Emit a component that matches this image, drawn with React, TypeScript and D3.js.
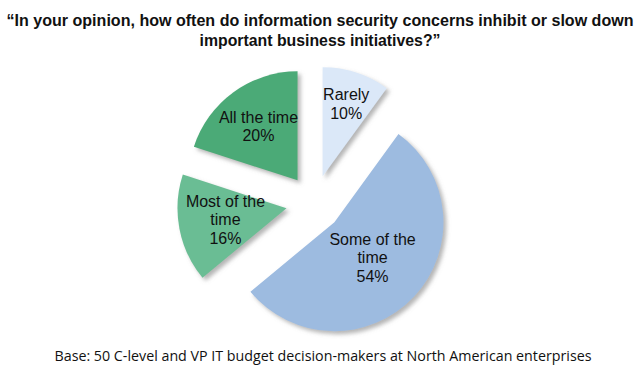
import React from "react";
import * as d3 from "d3";

const categories = ["Rarely", "Some of the time", "Most of the time", "All the time"];
const values = [10, 54, 16, 20];
const labelLines = [["Rarely"], ["Some of the", "time"], ["Most of the", "time"], ["All the time"]];
const colors = ["#dbe8f8", "#9dbbe0", "#6bbd94", "#4caa77"];
const titleLines = [
  "\u201cIn your opinion, how often do information security concerns inhibit or slow down",
  "important business initiatives?\u201d",
];
const footnote = "Base: 50 C-level and VP IT budget decision-makers at North American enterprises";

const W = 640;
const H = 375;
const CX = 314;
const CY = 203;
const R = 109;
const EXPLODE = 28;
const labelRadiusFactor = [0.7, 0.48, 0.57, 0.61];

export default function App() {
  const pie = d3
    .pie<number>()
    .sort(null)
    .startAngle(0)
    .endAngle(2 * Math.PI)
    .value((d) => d);
  const arcs = pie(values);
  const arcGen = d3.arc<d3.PieArcDatum<number>>().innerRadius(0).outerRadius(R);

  return (
    <svg
      width={W}
      height={H}
      viewBox={`0 0 ${W} ${H}`}
      style={{ position: "absolute", left: 0, top: 0, background: "#fff" }}
    >
      <defs>
        <filter id="shadow" x="-20%" y="-20%" width="150%" height="150%">
          <feDropShadow dx="3" dy="3" stdDeviation="2" floodColor="#777" floodOpacity="0.55" />
        </filter>
      </defs>
      <rect x={0} y={0} width={W} height={H} fill="#fff" />
      {titleLines.map((t, i) => (
        <text
          key={i}
          x={W / 2}
          y={26 + i * 20}
          textAnchor="middle"
          fontFamily="'Liberation Sans', Arial, sans-serif"
          fontWeight="bold"
          fontSize={16}
          fill="#111"
          textLength={i === 0 ? 627 : 241}
          lengthAdjust="spacingAndGlyphs"
        >
          {t}
        </text>
      ))}
      <g transform={`translate(${CX},${CY})`}>
        {arcs.map((a, i) => {
          const mid = (a.startAngle + a.endAngle) / 2;
          const ox = Math.sin(mid) * EXPLODE;
          const oy = -Math.cos(mid) * EXPLODE;
          const lr = R * labelRadiusFactor[i];
          const lx = ox + Math.sin(mid) * lr;
          const ly = oy - Math.cos(mid) * lr;
          const lines = [...labelLines[i], `${values[i]}%`];
          const lh = 18.5;
          const y0 = ly - ((lines.length - 1) * lh) / 2;
          return (
            <g key={categories[i]}>
              <path
                d={arcGen(a) || ""}
                transform={`translate(${ox},${oy})`}
                fill={colors[i]}
                filter="url(#shadow)"
              />
              <text
                textAnchor="middle"
                fontFamily="'Liberation Sans', Arial, sans-serif"
                fontSize={16}
                fill="#111"
              >
                {lines.map((l, j) => (
                  <tspan key={j} x={lx} y={y0 + j * lh + 5.5}>
                    {l}
                  </tspan>
                ))}
              </text>
            </g>
          );
        })}
      </g>
      <text
        x={323}
        y={361}
        textAnchor="middle"
        fontFamily="'Open Sans', 'Noto Sans', sans-serif"
        fontSize={14.5}
        fill="#111"
        textLength={537}
        lengthAdjust="spacingAndGlyphs"
      >
        {footnote}
      </text>
    </svg>
  );
}
